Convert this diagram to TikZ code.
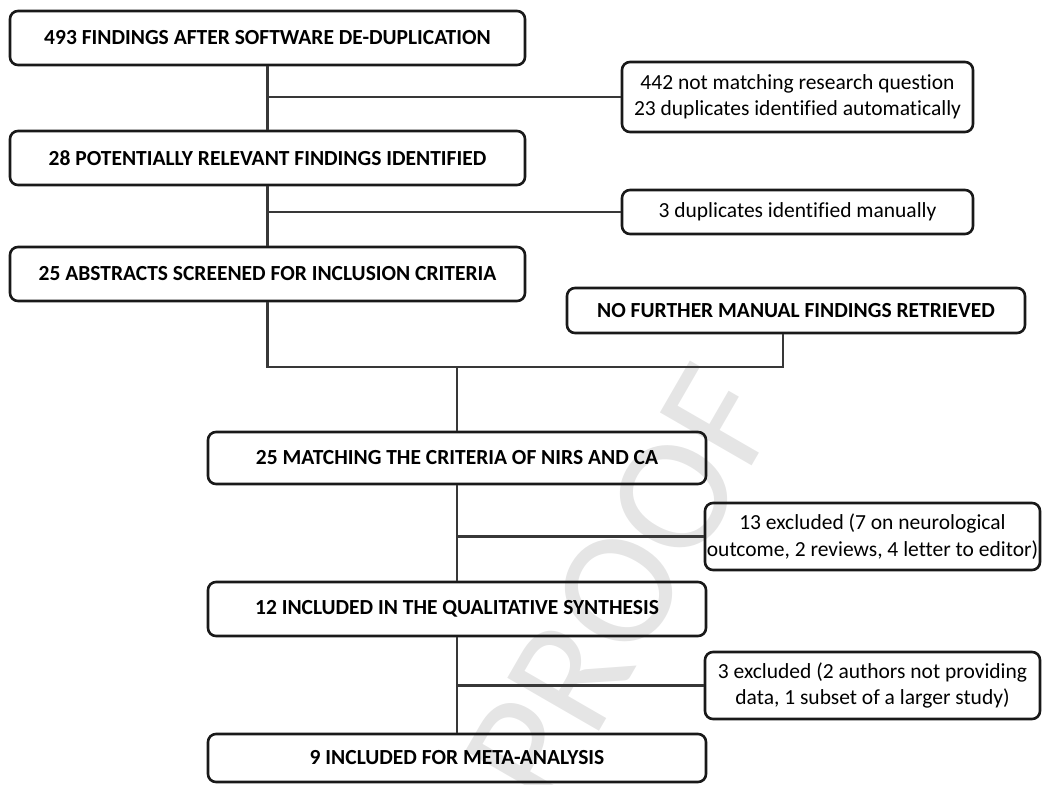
\documentclass[tikz,border=0pt]{standalone}
\usepackage{fontspec}
\setmainfont{Carlito}[Ligatures=NoCommon]
\begin{document}
\begin{tikzpicture}[x=1pt,y=-1pt,
  boxbase/.style={draw=black!90, line width=2.6pt, rounded corners=8pt, inner sep=0pt, align=center},
  mainbox/.style={boxbase, font=\fontsize{21.5}{26.5}\selectfont\bfseries},
  sidebox/.style={boxbase, font=\fontsize{21.5}{26.5}\selectfont},
  link/.style={draw=black!78, line width=2.2pt},
  watermark/.style={rotate=60, text=black!10, font=\fontsize{165}{165}\selectfont, inner sep=0pt}]
\useasboundingbox (0,0) rectangle (1043,784);
\node[watermark] (wm) at (622,586) {PROOF};
% main column
\node[mainbox, minimum width=515pt, minimum height=54pt] (b1) at (267.5,38) {493 FINDINGS AFTER SOFTWARE DE-DUPLICATION};
\node[mainbox, minimum width=515pt, minimum height=54pt] (b2) at (267.5,158) {28 POTENTIALLY RELEVANT FINDINGS IDENTIFIED};
\node[mainbox, minimum width=515pt, minimum height=54pt] (b3) at (267.5,274) {25 ABSTRACTS SCREENED FOR INCLUSION CRITERIA};
\node[mainbox, minimum width=458pt, minimum height=45pt] (nf) at (796,310.5) {NO FURTHER MANUAL FINDINGS RETRIEVED};
\node[mainbox, minimum width=498pt, minimum height=52pt] (b5) at (457,458) {25 MATCHING THE CRITERIA OF NIRS AND CA};
\node[mainbox, minimum width=498pt, minimum height=54pt] (b6) at (457,609) {12 INCLUDED IN THE QUALITATIVE SYNTHESIS};
\node[mainbox, minimum width=498pt, minimum height=48pt] (b7) at (457,758) {9 INCLUDED FOR META-ANALYSIS};
% side boxes
\node[sidebox, minimum width=351pt, minimum height=70pt] (r1) at (797.5,97) {442 not matching research question\\23 duplicates identified automatically};
\node[sidebox, minimum width=351pt, minimum height=44pt] (r2) at (797.5,212) {3 duplicates identified manually};
\node[sidebox, minimum width=335pt, minimum height=67pt] (x1) at (872.5,536.5) {13 excluded (7 on neurological\\outcome, 2 reviews, 4 letter to editor)};
\node[sidebox, minimum width=335pt, minimum height=67pt] (x2) at (872.5,685.5) {3 excluded (2 authors not providing\\data, 1 subset of a larger study)};
% connectors
\coordinate (jy) at (0,367);
\coordinate (nfb) at ([xshift=-13pt]nf.south);
\draw[link] (b1.south) -- (b2.north);
\draw[link] (b1.south |- r1.west) -- (r1.west);
\draw[link] (b2.south) -- (b3.north);
\draw[link] (b2.south |- r2.west) -- (r2.west);
\draw[link] (b3.south) -- (b3.south |- jy) -- (nfb |- jy) -- (nfb);
\draw[link] (b5.north |- jy) -- (b5.north);
\draw[link] (b5.south) -- (b6.north);
\draw[link] (b5.south |- x1.west) -- (x1.west);
\draw[link] (b6.south) -- (b7.north);
\draw[link] (b6.south |- x2.west) -- (x2.west);
\end{tikzpicture}
\end{document}
